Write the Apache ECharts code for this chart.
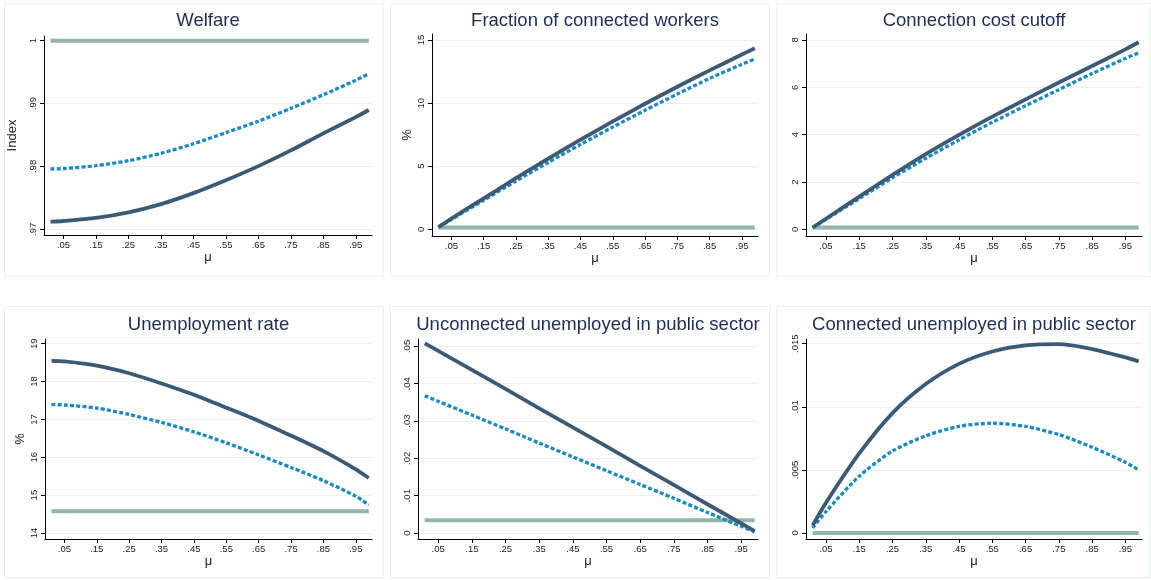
<!DOCTYPE html>
<html>
<head>
<meta charset="utf-8">
<script src="https://cdn.jsdelivr.net/npm/echarts@6/dist/echarts.min.js"></script>
<style>html,body{margin:0;padding:0;background:#fff}#c{width:1151px;height:580px}</style>
</head>
<body>
<div id="c"></div>
<script>
// ---- data ----
const xs = [0.01, 0.05, 0.15, 0.25, 0.35, 0.45, 0.55, 0.65, 0.75, 0.85, 0.95, 0.99];
const xTicks = [0.05, 0.15, 0.25, 0.35, 0.45, 0.55, 0.65, 0.75, 0.85, 0.95];
const titles = ['Welfare', 'Fraction of connected workers', 'Connection cost cutoff',
  'Unemployment rate', 'Unconnected unemployed in public sector', 'Connected unemployed in public sector'];
const yNames = ['Index', '%', '', '%', '', ''];

const welfareSolid  = [0.97121, 0.97132, 0.97180, 0.97268, 0.97400, 0.97575, 0.97780, 0.98005, 0.98255, 0.98525, 0.98785, 0.98898];
const welfareDashed = [0.97959, 0.97965, 0.98012, 0.98091, 0.98209, 0.98360, 0.98537, 0.98719, 0.98924, 0.99139, 0.99372, 0.99470];
const welfareBase   = [1, 1, 1, 1, 1, 1, 1, 1, 1, 1, 1, 1];
const welfareTicks  = [0.97, 0.98, 0.99, 1];

const fracSolid  = [0.18, 0.85, 2.45, 4.05, 5.6, 7.1, 8.55, 9.95, 11.3, 12.6, 13.85, 14.35];
const fracDashed = [0.15, 0.78, 2.3, 3.82, 5.3, 6.72, 8.1, 9.43, 10.72, 11.96, 13.08, 13.5];
const fracBase   = [0.15, 0.15, 0.15, 0.15, 0.15, 0.15, 0.15, 0.15, 0.15, 0.15, 0.15, 0.15];
const fracTicks  = [0, 5, 10, 15];

const cutSolid  = [0.08, 0.45, 1.38, 2.3, 3.18, 3.99, 4.76, 5.49, 6.2, 6.9, 7.6, 7.9];
const cutDashed = [0.07, 0.42, 1.3, 2.18, 3.0, 3.78, 4.52, 5.22, 5.9, 6.58, 7.22, 7.45];
const cutBase   = [0.08, 0.08, 0.08, 0.08, 0.08, 0.08, 0.08, 0.08, 0.08, 0.08, 0.08, 0.08];
const cutTicks  = [0, 2, 4, 6, 8];

const unempSolid  = [18.545, 18.53, 18.42, 18.22, 17.95, 17.65, 17.31, 16.96, 16.57, 16.16, 15.68, 15.45];
const unempDashed = [17.39, 17.38, 17.30, 17.13, 16.92, 16.67, 16.38, 16.06, 15.73, 15.38, 14.97, 14.74];
const unempBase   = [14.57, 14.57, 14.57, 14.57, 14.57, 14.57, 14.57, 14.57, 14.57, 14.57, 14.57, 14.57];
const unempTicks  = [14, 15, 16, 17, 18, 19];

const uncSolid  = [0.0508, 0.0488, 0.0437, 0.0386, 0.0334, 0.0283, 0.0232, 0.0180, 0.0129, 0.0077, 0.0026, 0.0005];
const uncDashed = [0.0368, 0.0353, 0.0316, 0.0279, 0.0241, 0.0204, 0.0167, 0.0130, 0.0093, 0.0055, 0.0018, 0.0003];
const uncBase   = [0.0034, 0.0034, 0.0034, 0.0034, 0.0034, 0.0034, 0.0034, 0.0034, 0.0034, 0.0034, 0.0034, 0.0034];
const uncTicks  = [0, 0.01, 0.02, 0.03, 0.04, 0.05];

const conSolid  = [0.0006, 0.0024, 0.0063, 0.0095, 0.0118, 0.0134, 0.01438, 0.01486, 0.01496, 0.01458, 0.01392, 0.0136];
const conDashed = [0.0004, 0.0017, 0.0045, 0.0065, 0.0077, 0.00845, 0.0087, 0.00845, 0.0078, 0.0068, 0.0056, 0.0050];
const conBase   = [0, 0, 0, 0, 0, 0, 0, 0, 0, 0, 0, 0];
const conTicks  = [0, 0.005, 0.01, 0.015];

const panels = [
  {solid: welfareSolid, dashed: welfareDashed, base: welfareBase, ticks: welfareTicks},
  {solid: fracSolid, dashed: fracDashed, base: fracBase, ticks: fracTicks},
  {solid: cutSolid, dashed: cutDashed, base: cutBase, ticks: cutTicks},
  {solid: unempSolid, dashed: unempDashed, base: unempBase, ticks: unempTicks},
  {solid: uncSolid, dashed: uncDashed, base: uncBase, ticks: uncTicks},
  {solid: conSolid, dashed: conDashed, base: conBase, ticks: conTicks}
];

// ---- layout ----
const grids = [
  {left: 44, top: 36, width: 328, height: 199},
  {left: 432, top: 34, width: 326, height: 202},
  {left: 806, top: 34, width: 336, height: 202},
  {left: 45, top: 339, width: 327, height: 200},
  {left: 418, top: 339, width: 340, height: 200},
  {left: 806, top: 339, width: 336, height: 200}
];
const yRanges = [[0.96909, 1.00075], [-0.53, 15.48], [-0.28, 8.25], [13.84, 19.124], [-0.00161, 0.05199], [-0.000477, 0.015374]];
const nameGaps = [25, 18, 18, 18, 18, 18];
const boxes = [
  [4, 3, 379, 273], [390, 3, 379, 273], [776, 3, 374, 273],
  [4, 306, 379, 271], [390, 306, 379, 271], [776, 306, 374, 271]
];
const titleY = [20.5, 20.5, 20.5, 325, 325, 325];

const FONT = 'Liberation Sans, Arial, sans-serif';
const fmt = v => {
  let s = String(+(+v).toFixed(5));
  return s.replace(/^0\./, '.').replace(/^-0\./, '-.');
};
const pairs = ys => xs.map((x, i) => [x, ys[i]]);

const option = {
  animation: false,
  backgroundColor: '#fff',
  grid: grids.map(g => Object.assign({containLabel: false}, g)),
  xAxis: grids.map((g, i) => ({
    type: 'value', gridIndex: i, min: -0.01, max: 1.0,
    axisLine: {show: true, onZero: false, lineStyle: {color: '#000', width: 1}},
    axisTick: {show: true, length: 4, customValues: xTicks, lineStyle: {color: '#000'}},
    axisLabel: {customValues: xTicks, formatter: fmt, fontSize: 9.5, color: '#222', margin: 5, fontFamily: FONT},
    splitLine: {show: false},
    name: 'μ', nameLocation: 'middle', nameGap: 15,
    nameTextStyle: {fontSize: 13, color: '#222', fontFamily: FONT}
  })),
  yAxis: grids.map((g, i) => ({
    type: 'value', gridIndex: i, min: yRanges[i][0], max: yRanges[i][1],
    axisLine: {show: true, onZero: false, lineStyle: {color: '#000', width: 1}},
    axisTick: {show: true, length: 4, customValues: panels[i].ticks, lineStyle: {color: '#000'}},
    axisLabel: {customValues: panels[i].ticks, formatter: fmt, rotate: 90, fontSize: 9.5, color: '#222', margin: 6, fontFamily: FONT},
    splitLine: {show: true, lineStyle: {color: '#e8f0f1', width: 1}},
    name: yNames[i], nameLocation: 'middle', nameRotate: 90, nameGap: nameGaps[i],
    nameTextStyle: {fontSize: 13, color: '#222', fontFamily: FONT}
  })),
  series: [],
  graphic: []
};

panels.forEach((p, i) => {
  option.series.push({
    type: 'line', xAxisIndex: i, yAxisIndex: i, data: pairs(p.base), symbol: 'none', silent: true, z: 1,
    lineStyle: {color: '#93b5ab', width: 4}
  });
  option.series.push({
    type: 'line', xAxisIndex: i, yAxisIndex: i, data: pairs(p.dashed), symbol: 'none', silent: true, z: 2,
    smooth: 0.25, lineStyle: {color: '#1a8bc0', width: 3.3, type: [4, 2.2]}
  });
  option.series.push({
    type: 'line', xAxisIndex: i, yAxisIndex: i, data: pairs(p.solid), symbol: 'none', silent: true, z: 3,
    smooth: 0.25, lineStyle: {color: '#3d5a74', width: 3.8}
  });
  const b = boxes[i];
  option.graphic.push({
    type: 'rect', z: -10, silent: true,
    shape: {x: b[0] + 0.5, y: b[1] + 0.5, width: b[2], height: b[3]},
    style: {fill: 'none', stroke: '#e6eef0', lineWidth: 1}
  });
  const g = grids[i];
  option.graphic.push({
    type: 'text', silent: true, x: g.left + g.width / 2, y: titleY[i],
    style: {text: titles[i], fontSize: 18.5, fontFamily: FONT, fill: '#1e2c56', align: 'center', verticalAlign: 'middle'}
  });
});

const chart = echarts.init(document.getElementById('c'), null, {renderer: 'canvas'});
chart.setOption(option);
</script>
</body>
</html>
